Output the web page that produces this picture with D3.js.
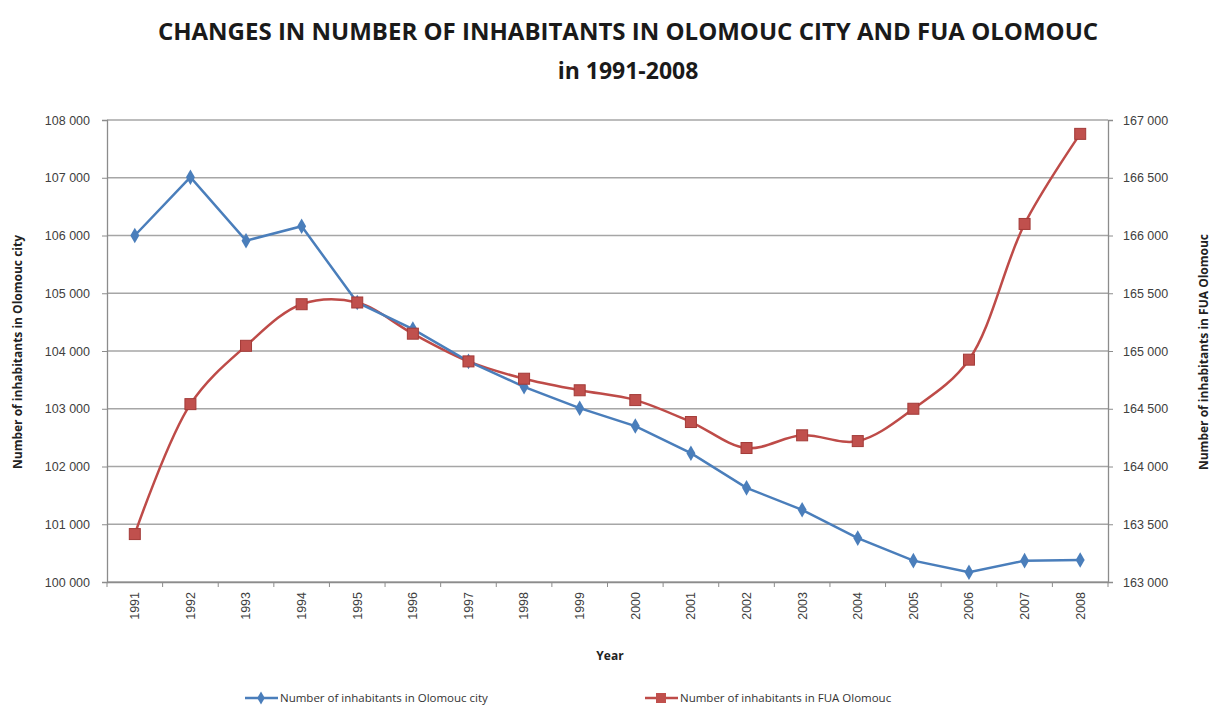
<html>
  <head>
    <meta charset="utf-8" />
    <script src="https://d3js.org/d3.v7.min.js"></script>
  </head>
  <style>
    body { margin: 0; background: #fff; }
    svg { font-family: "Open Sans", "DejaVu Sans", sans-serif; }
    .tick text { fill: #404040; font-size: 12.5px; }
  </style>
  <body>
    <svg width="1222" height="710"></svg>
    <script>
      // data
      const years = ["1991","1992","1993","1994","1995","1996","1997","1998","1999",
                     "2000","2001","2002","2003","2004","2005","2006","2007","2008"];
      const cityValues = [106000, 107010, 105910, 106160, 104840, 104380, 103820, 103380, 103010,
                          102700, 102230, 101630, 101250, 100760, 100370, 100170, 100370, 100380];
      const fuaValues = [163415, 164540, 165045, 165405, 165420, 165150, 164910, 164760, 164660,
                         164575, 164385, 164160, 164270, 164220, 164500, 164925, 166100, 166880];
      const leftTicks = [100000,101000,102000,103000,104000,105000,106000,107000,108000];
      const rightTicks = [163000,163500,164000,164500,165000,165500,166000,166500,167000];

      const svg = d3.select("svg");
      const mLeft = 107, mRight = 1108, mTop = 120, mBottom = 582;
      const fmt = d => d3.format(",")(d).replace(",", " ");

      const x = d3.scaleBand().domain(years).range([mLeft, mRight]);
      const yL = d3.scaleLinear().domain([100000, 108000]).range([mBottom, mTop]);
      const yR = d3.scaleLinear().domain([163000, 167000]).range([mBottom, mTop]);

      // gridlines
      svg.append("g").selectAll("line").data(leftTicks).enter().append("line")
        .attr("x1", mLeft).attr("x2", mRight)
        .attr("y1", d => yL(d)).attr("y2", d => yL(d))
        .attr("stroke", "#a6a6a6").attr("stroke-width", 1.3);

      // axes
      const gl = svg.append("g").attr("transform", `translate(${mLeft},0)`)
        .call(d3.axisLeft(yL).tickValues(leftTicks).tickFormat(fmt).tickSize(5).tickPadding(12));
      const gr = svg.append("g").attr("transform", `translate(${mRight},0)`)
        .call(d3.axisRight(yR).tickValues(rightTicks).tickFormat(fmt).tickSize(5).tickPadding(10));
      const gx = svg.append("g").attr("transform", `translate(0,${mBottom})`)
        .call(d3.axisBottom(x).tickSize(0));
      gx.selectAll(".tick text")
        .attr("transform", "rotate(-90)")
        .attr("text-anchor", "end")
        .attr("x", -10).attr("y", 0).attr("dy", "0.35em");

      // category separator ticks
      svg.append("g").selectAll("line").data(d3.range(years.length + 1)).enter().append("line")
        .attr("x1", i => mLeft + i * x.step()).attr("x2", i => mLeft + i * x.step())
        .attr("y1", mBottom).attr("y2", mBottom + 5)
        .attr("stroke", "#8c8c8c");
      [gl, gr, gx].forEach(g => {
        g.selectAll(".domain").attr("stroke", "#8c8c8c").attr("stroke-width", 1.3);
        g.selectAll(".tick line").attr("stroke", "#8c8c8c");
      });

      // lines
      const cx = (d, i) => x(years[i]) + x.bandwidth() / 2;
      svg.append("path").datum(fuaValues)
        .attr("d", d3.line().x(cx).y(d => yR(d)).curve(d3.curveCatmullRom.alpha(0.5)))
        .attr("fill", "none").attr("stroke", "#be4b48").attr("stroke-width", 2.5);
      svg.append("path").datum(cityValues)
        .attr("d", d3.line().x(cx).y(d => yL(d)))
        .attr("fill", "none").attr("stroke", "#4a7ebb").attr("stroke-width", 2.5);

      // markers
      svg.append("g").selectAll("path").data(cityValues).enter().append("path")
        .attr("d", d3.symbol().type(d3.symbolDiamond).size(70))
        .attr("transform", (d, i) => `translate(${cx(d, i)},${yL(d)})`)
        .attr("fill", "#4a7ebb");
      svg.append("g").selectAll("rect").data(fuaValues).enter().append("rect")
        .attr("x", (d, i) => cx(d, i) - 5.5).attr("y", d => yR(d) - 5.5)
        .attr("width", 11).attr("height", 11)
        .attr("fill", "#c0504d").attr("stroke", "#a33b38").attr("stroke-width", 1);

      // titles
      svg.append("text").attr("x", 628).attr("y", 40).attr("text-anchor", "middle")
        .attr("font-size", 24).attr("font-weight", "bold").attr("fill", "#1a1a1a")
        .text("CHANGES IN NUMBER OF INHABITANTS IN OLOMOUC CITY AND FUA OLOMOUC");
      svg.append("text").attr("x", 628).attr("y", 79).attr("text-anchor", "middle")
        .attr("font-size", 23).attr("font-weight", "bold").attr("fill", "#1a1a1a")
        .text("in 1991-2008");
      svg.append("text").attr("x", 610).attr("y", 660).attr("text-anchor", "middle")
        .attr("font-size", 12).attr("font-weight", "bold").attr("fill", "#222")
        .text("Year");
      svg.append("text").attr("transform", "translate(22,352) rotate(-90)").attr("text-anchor", "middle")
        .attr("font-size", 12).attr("font-weight", "bold").attr("fill", "#222")
        .text("Number of inhabitants in Olomouc city");
      svg.append("text").attr("transform", "translate(1208,352) rotate(-90)").attr("text-anchor", "middle")
        .attr("font-size", 12).attr("font-weight", "bold").attr("fill", "#222")
        .text("Number of inhabitants in FUA Olomouc");

      // legend
      const legend = [
        { label: "Number of inhabitants in Olomouc city", color: "#4a7ebb", x: 245, shape: "diamond" },
        { label: "Number of inhabitants in FUA Olomouc", color: "#be4b48", x: 645, shape: "square" }
      ];
      legend.forEach(l => {
        const g = svg.append("g").attr("transform", `translate(${l.x},698)`);
        g.append("line").attr("x1", 0).attr("x2", 33).attr("stroke", l.color).attr("stroke-width", 2.5);
        if (l.shape === "diamond") {
          g.append("path").attr("d", d3.symbol().type(d3.symbolDiamond).size(50))
            .attr("transform", "translate(16,0)").attr("fill", l.color);
        } else {
          g.append("rect").attr("x", 11).attr("y", -5).attr("width", 10).attr("height", 10).attr("fill", "#c0504d");
        }
        g.append("text").attr("x", 35).attr("y", 4).attr("font-size", 11.5).attr("fill", "#333").text(l.label);
      });
    </script>
  </body>
</html>
